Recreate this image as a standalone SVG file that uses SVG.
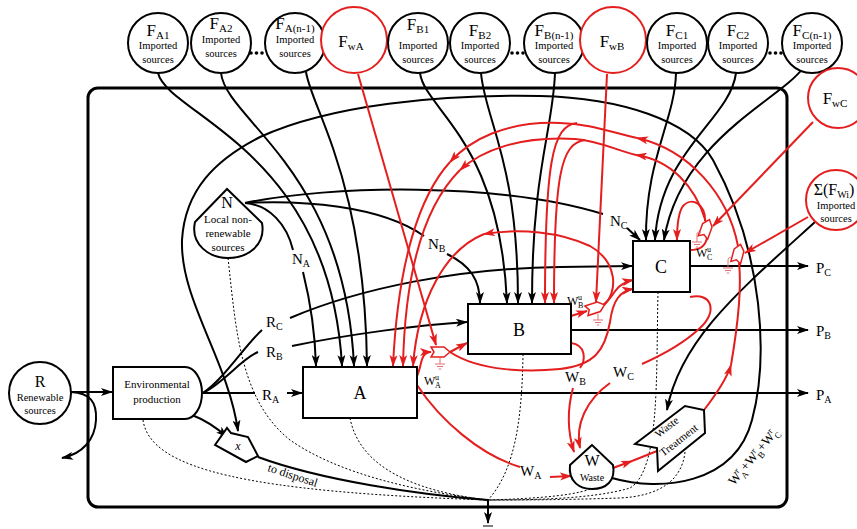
<svg xmlns="http://www.w3.org/2000/svg" width="857" height="529" viewBox="0 0 857 529">
<defs>
<marker id="ab" viewBox="0 0 12 8" refX="11" refY="4" markerWidth="12" markerHeight="8" orient="auto" markerUnits="userSpaceOnUse"><path d="M0,0 L12,4 L0,8 L3,4 Z" fill="#000"/></marker>
<marker id="ar" viewBox="0 0 12 8" refX="11" refY="4" markerWidth="12" markerHeight="8" orient="auto" markerUnits="userSpaceOnUse"><path d="M0,0 L12,4 L0,8 L3,4 Z" fill="#e41e1e"/></marker>
<path id="sw" d="M-9,-5 L4,-5 L10,0 L4,5 L-9,5 L-6,0 Z"/>
<path id="gnd" d="M0,0 V6 M-5,6 H5 M-3,8.5 H3 M-1.2,11 H1.2"/>
</defs>
<style>
text{font-family:"Liberation Serif","Times New Roman",serif;fill:#000}
.c{text-anchor:middle}
.blk{fill:none;stroke:#000;stroke-width:2}
.red{fill:none;stroke:#e41e1e;stroke-width:2}
.ba{marker-end:url(#ab)}
.ra{marker-end:url(#ar)}
.dot{fill:none;stroke:#000;stroke-width:1;stroke-dasharray:2,2}
.src{fill:#fff;stroke:#000;stroke-width:2}
.srcr{fill:#fff;stroke:#e41e1e;stroke-width:2}
.box{fill:#fff;stroke:#000;stroke-width:2}
.sw{fill:#fff;stroke:#e41e1e;stroke-width:1.5}
.gnd{fill:none;stroke:#e07070;stroke-width:1}
.F{font-size:17px}
.s{font-size:10.5px}
.lab{font-size:15px}
</style>
<rect width="857" height="529" fill="#fff"/>
<rect id="frame" x="88" y="88" width="699" height="419" rx="10" fill="none" stroke="#000" stroke-width="3"/>

<g id="connectors">
<!-- dotted to sink -->
<path class="dot" d="M143,420 C150,470 250,492 488,500"/>
<path class="dot" d="M228,258 C236,330 240,400 290,440 C340,475 420,492 488,500"/>
<path class="dot" d="M350,418 C360,470 420,492 488,500"/>
<path class="dot" d="M523,354 C522,420 515,470 488,500"/>
<path class="dot" d="M658,292 C656,380 660,470 630,488 C590,500 520,500 488,500"/>
<path class="dot" d="M590,489 C570,497 520,499 488,500"/>
<path class="dot" d="M685,452 C682,480 660,496 620,498 C560,500 520,500 488,500"/>
<path class="blk ba" d="M488,500 L488,523"/>
<path d="M483,526 H493" stroke="#000" stroke-width="1"/>

<!-- R -->
<path class="blk ba" d="M71,392 L112,392"/>
<path class="blk ba" d="M71,392 C90,393 97,402 96,420 C95,440 82,454 62,458"/>
<!-- R outputs -->
<path class="blk" d="M203,393 L255,393"/>
<path class="blk ba" d="M287,393 L302,393"/>
<path class="blk" d="M203,393 C225,382 240,360 258,352"/>
<path class="blk ba" d="M292,346 C350,334 420,325 467,322"/>
<path class="blk" d="M203,393 C225,378 245,345 262,330"/>
<path class="blk ba" d="M290,318 C360,288 460,268 560,267 L632,266"/>
<path class="blk ba" d="M192,415 C205,420 217,428 227,437"/>
<path class="blk" d="M258,457 C320,480 420,495 488,500"/>

<!-- N -->
<path class="blk" d="M245,203 C270,205 287,225 293,250"/>
<path class="blk ba" d="M303,272 C310,300 315,330 316,366"/>
<path class="blk" d="M245,203 C300,200 380,205 424,236"/>
<path class="blk ba" d="M447,254 C470,265 480,280 480,303"/>
<path class="blk" d="M245,203 C330,185 500,182 603,214"/>
<path class="blk ba" d="M627,228 L640,240"/>

<!-- F A -->
<path class="blk ba" d="M158,73 C168,115 330,150 342,366"/>
<path class="blk ba" d="M221,73 C226,120 345,170 354,366"/>
<path class="blk ba" d="M306,72 C312,110 365,180 367,366"/>
<!-- F B -->
<path class="blk ba" d="M420,73 C425,110 500,140 507,303"/>
<path class="blk ba" d="M481,73 C485,120 518,160 518,303"/>
<path class="blk ba" d="M555,73 C553,130 532,170 532,303"/>
<!-- F C -->
<path class="blk ba" d="M676,73 C675,120 645,160 646,240"/>
<path class="blk ba" d="M736,73 C730,120 660,150 655,240"/>
<path class="blk ba" d="M803,68 C780,100 680,140 664,240"/>

<!-- big black arc -->
<path class="blk ba" d="M612,478 C660,492 735,485 752,420 C768,360 765,255 713,160 C690,120 620,98 540,96 C440,94 330,105 260,137 C215,160 185,190 182,240 C180,300 228,360 238,431"/>
<!-- imported to waste treatment -->
<path class="blk ba" d="M815,222 C740,290 680,340 667,410"/>

<!-- products -->
<path class="blk ba" d="M690,266 L808,266"/>
<path class="blk ba" d="M571,330 L808,330"/>
<path class="blk ba" d="M417,393 L808,393"/>

<!-- red: feedback imported -->
<path class="red ra" d="M358,74 L436,345"/>
<path class="red ra" d="M607,74 L596,302"/>
<path class="red ra" d="M813,122 L713,226"/>
<path class="red ra" d="M808,217 L745,253"/>

<!-- red recycle arcs -->
<path class="red ra" d="M738,246 C728,195 690,150 637,138"/>
<path class="red ra" d="M637,138 C610,132 590,124 560,123 C505,121 470,140 450,162"/>
<path class="red ra" d="M450,162 C420,195 398,260 393,366"/>
<path class="red ra" d="M577,123 C552,125 545,165 545,303"/>
<path class="red ra" d="M706,222 C695,185 670,160 636,155"/>
<path class="red ra" d="M636,155 C615,150 600,141 575,139 C520,136 482,150 460,170"/>
<path class="red ra" d="M460,170 C425,205 405,270 403,366"/>
<path class="red ra" d="M585,140 C561,143 554,175 554,303"/>
<path class="red ra" d="M604,305 C618,292 618,262 590,246 C560,232 520,228 484,234"/>
<path class="red ra" d="M484,234 C445,250 418,300 413,366"/>

<!-- W^u local loops -->
<path class="red ra" d="M417,376 C422,366 420,352 431,352"/>
<path class="red ra" d="M450,352 L467,343"/>
<path class="red ra" d="M450,352 C480,372 530,372 560,369 C595,365 605,350 610,322 C613,300 620,291 633,289"/>
<path class="red ra" d="M571,316 L587,311"/>
<path class="red ra" d="M603,305 C614,298 614,284 633,280"/>
<path class="red" d="M690,250 C700,250 706,246 707,237"/>
<path class="red ra" d="M705,221 C706,205 692,196 683,206 C678,213 677,225 677,240"/>

<!-- wastes -->
<path class="red" d="M417,385 C440,420 480,455 520,467"/>
<path class="red ra" d="M550,477 L571,476"/>
<path class="red" d="M571,343 C586,345 586,360 580,368"/>
<path class="red ra" d="M573,388 C567,410 567,430 574,452"/>
<path class="red" d="M690,297 C712,292 718,312 700,328 C682,345 660,356 642,364"/>
<path class="red ra" d="M610,383 C586,400 575,425 580,448"/>
<path class="red ra" d="M613,468 L632,461"/>
<path class="red" d="M632,461 L657,451"/>
<path class="red ra" d="M704,410 C718,392 727,378 731,365"/>
<path class="red" d="M731,365 C737,330 742,290 739,263"/>
</g>

<!-- switches & grounds -->
<g id="WAu-switch"><use href="#sw" class="sw" transform="translate(440,352)"/><use href="#gnd" class="gnd" transform="translate(440,358)"/></g>
<g id="WBu-switch"><use href="#sw" class="sw" transform="translate(595,308) rotate(-18)"/><use href="#gnd" class="gnd" transform="translate(598,314)"/></g>
<g id="WCu-switch"><use href="#sw" class="sw" transform="translate(706,229) rotate(-70)"/><path class="gnd" d="M701,233 C697,231 697,233 697,236"/><use href="#gnd" class="gnd" transform="translate(697,236)"/></g>
<g id="Wr-switch"><use href="#sw" class="sw" transform="translate(738,254) rotate(-75)"/><path class="gnd" d="M733,258 C728,256 728,259 728,262"/><use href="#gnd" class="gnd" transform="translate(728,262)"/></g>

<!-- source circles -->
<g id="FA1"><circle class="src" cx="158" cy="43" r="30"/><text class="c F" x="158" y="36">F<tspan font-size="11" dy="3">A1</tspan></text><text class="c s" x="158" y="49">Imported</text><text class="c s" x="158" y="63">sources</text></g>
<g id="FA2"><circle class="src" cx="221" cy="43" r="30"/><text class="c F" x="221" y="29">F<tspan font-size="11" dy="3">A2</tspan></text><text class="c s" x="221" y="43">Imported</text><text class="c s" x="221" y="57">sources</text></g>
<g id="dotsA"><circle cx="251" cy="53" r="1.8"/><circle cx="256.5" cy="53" r="1.8"/><circle cx="262" cy="53" r="1.8"/></g>
<g id="FAn"><circle class="src" cx="295" cy="43" r="30"/><text class="c F" x="295" y="29">F<tspan font-size="11" dy="3">A(n-1)</tspan></text><text class="c s" x="295" y="43">Imported</text><text class="c s" x="295" y="57">sources</text></g>
<g id="FwA"><circle class="srcr" cx="354" cy="40" r="33"/><text class="c F" x="351" y="47">F<tspan font-size="11" dy="3">wA</tspan></text></g>
<g id="FB1"><circle class="src" cx="418" cy="43" r="30"/><text class="c F" x="418" y="30">F<tspan font-size="11" dy="3">B1</tspan></text><text class="c s" x="418" y="49">Imported</text><text class="c s" x="418" y="63">sources</text></g>
<g id="FB2"><circle class="src" cx="480" cy="43" r="30"/><text class="c F" x="480" y="36">F<tspan font-size="11" dy="3">B2</tspan></text><text class="c s" x="480" y="49">Imported</text><text class="c s" x="480" y="63">sources</text></g>
<g id="dotsB"><circle cx="512" cy="53" r="1.8"/><circle cx="517.5" cy="53" r="1.8"/><circle cx="523" cy="53" r="1.8"/></g>
<g id="FBn"><circle class="src" cx="554" cy="43" r="30"/><text class="c F" x="554" y="36">F<tspan font-size="11" dy="3">B(n-1)</tspan></text><text class="c s" x="554" y="49">Imported</text><text class="c s" x="554" y="63">sources</text></g>
<g id="FwB"><circle class="srcr" cx="613" cy="40" r="33"/><text class="c F" x="612" y="47">F<tspan font-size="11" dy="3">wB</tspan></text></g>
<g id="FC1"><circle class="src" cx="677" cy="43" r="30"/><text class="c F" x="677" y="36">F<tspan font-size="11" dy="3">C1</tspan></text><text class="c s" x="677" y="49">Imported</text><text class="c s" x="677" y="63">sources</text></g>
<g id="FC2"><circle class="src" cx="738" cy="43" r="30"/><text class="c F" x="738" y="36">F<tspan font-size="11" dy="3">C2</tspan></text><text class="c s" x="738" y="49">Imported</text><text class="c s" x="738" y="63">sources</text></g>
<g id="dotsC"><circle cx="770" cy="53" r="1.8"/><circle cx="775.5" cy="53" r="1.8"/><circle cx="781" cy="53" r="1.8"/></g>
<g id="FCn"><circle class="src" cx="812" cy="43" r="30"/><text class="c F" x="812" y="36">F<tspan font-size="11" dy="3">C(n-1)</tspan></text><text class="c s" x="812" y="49">Imported</text><text class="c s" x="812" y="63">sources</text></g>
<g id="FwC"><circle class="srcr" cx="838" cy="98" r="30"/><text class="c F" x="835" y="104">F<tspan font-size="11" dy="3">wC</tspan></text></g>
<g id="FWi"><circle class="srcr" cx="836" cy="200" r="30"/><text class="c" font-size="16" x="834" y="195">Σ(F<tspan font-size="10" dy="3">Wi</tspan><tspan dy="-3">)</tspan></text><text class="c s" x="836" y="209">Imported</text><text class="c s" x="836" y="222">sources</text></g>

<!-- R -->
<g id="R"><circle class="src" cx="40" cy="393" r="31"/><text class="c" font-size="16" x="40" y="387">R</text><text class="c s" x="40" y="401">Renewable</text><text class="c s" x="40" y="414">sources</text></g>
<!-- Environmental production -->
<g id="Env"><path class="box" d="M113,367 H185 A17,26 0 0 1 185,419 H113 Z"/><text class="c" font-size="11" x="157" y="388">Environmental</text><text class="c" font-size="11" x="157" y="403">production</text></g>
<!-- N -->
<g id="N"><path class="box" d="M227,189 L195,222 C190,245 210,258 228,258 C248,258 266,245 262,223 Z"/><text class="c" font-size="16" x="227" y="208">N</text><text class="c" font-size="11" x="228" y="223">Local non-</text><text class="c" font-size="11" x="228" y="237">renewable</text><text class="c" font-size="11" x="228" y="251">sources</text></g>
<!-- X -->
<g id="X"><path class="box" d="M215,445 L227,428 L231,433 L248,437 L258,456 L246,462 Z"/><text class="c" font-size="12" font-style="italic" x="238" y="450">x</text></g>
<text font-size="12" transform="translate(267,471) rotate(18)">to disposal</text>

<!-- boxes -->
<g id="A"><rect class="box" x="303" y="367" width="114" height="51"/><text class="c" font-size="18" x="360" y="399">A</text></g>
<g id="B"><rect class="box" x="468" y="304" width="103" height="50"/><text class="c" font-size="18" x="519" y="336">B</text></g>
<g id="C"><rect class="box" x="633" y="241" width="57" height="51"/><text class="c" font-size="18" x="661" y="273">C</text></g>

<!-- Waste -->
<g id="W"><path class="box" d="M592,445 L570,465 C568,482 580,489 592,489 C606,489 616,481 613,465 Z"/><text class="c" font-size="16" x="592" y="466">W</text><text class="c" font-size="10" x="592" y="481">Waste</text></g>
<g id="WT"><path class="box" d="M635,444 L685,406 L704,410 L705,433 L658,471 L657,448 Z"/><text class="c" font-size="11" transform="translate(669,430) rotate(-38)">Waste</text><text class="c" font-size="11" transform="translate(681,443) rotate(-38)">Treatment</text></g>

<!-- labels -->
<g id="labels">
<text class="lab" x="292" y="264">N<tspan font-size="10" dy="3">A</tspan></text>
<text class="lab" x="428" y="249">N<tspan font-size="10" dy="3">B</tspan></text>
<text class="lab" x="610" y="226">N<tspan font-size="10" dy="3">C</tspan></text>
<text class="lab" x="262" y="400">R<tspan font-size="10" dy="3">A</tspan></text>
<text class="lab" x="266" y="357">R<tspan font-size="10" dy="3">B</tspan></text>
<text class="lab" x="266" y="327">R<tspan font-size="10" dy="3">C</tspan></text>
<text class="lab" x="816" y="400">P<tspan font-size="10" dy="3">A</tspan></text>
<text class="lab" x="816" y="336">P<tspan font-size="10" dy="3">B</tspan></text>
<text class="lab" x="816" y="273">P<tspan font-size="10" dy="3">C</tspan></text>
<text class="lab" x="520" y="476">W<tspan font-size="10" dy="3">A</tspan></text>
<text class="lab" x="565" y="382">W<tspan font-size="10" dy="3">B</tspan></text>
<text class="lab" x="613" y="377">W<tspan font-size="10" dy="3">C</tspan></text>
<text font-size="12" x="424" y="385">W<tspan x="435" dy="-5" font-size="8">u</tspan><tspan x="435" dy="8" font-size="8">A</tspan></text>
<text font-size="12" x="567" y="305">W<tspan x="578" dy="-5" font-size="8">u</tspan><tspan x="578" dy="8" font-size="8">B</tspan></text>
<text font-size="12" x="696" y="257">W<tspan x="707" dy="-5" font-size="8">u</tspan><tspan x="707" dy="8" font-size="8">C</tspan></text>
<text font-size="13" transform="translate(734,486) rotate(-50)">W<tspan font-size="9" dy="-5">r</tspan><tspan font-size="9" dx="-3" dy="9">A</tspan><tspan dy="-4">+W</tspan><tspan font-size="9" dy="-5">r</tspan><tspan font-size="9" dx="-3" dy="9">B</tspan><tspan dy="-4">+W</tspan><tspan font-size="9" dy="-5">r</tspan><tspan font-size="9" dx="-3" dy="9">C</tspan></text>
</g>
</svg>
